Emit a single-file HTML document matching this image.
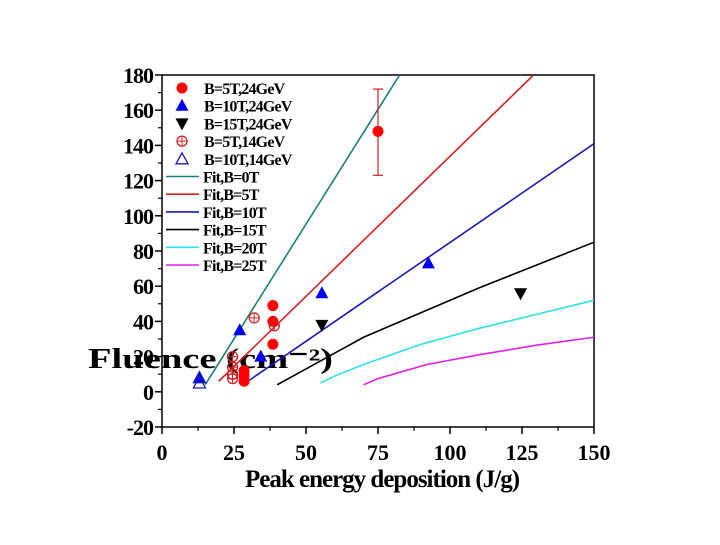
<!DOCTYPE html>
<html><head><meta charset="utf-8"><style>
body{margin:0;background:#fff;width:720px;height:540px;overflow:hidden}
svg text{font-family:"Liberation Serif",serif;font-weight:bold}
</style></head><body>
<svg id="chart" width="720" height="540" xmlns="http://www.w3.org/2000/svg"></svg>
<script>
const xTicks=[0,25,50,75,100,125,150];
const yTicks=[-20,0,20,40,60,80,100,120,140,160,180];
const red5T24=[[28.5,12],[28.5,9],[28.5,6],[38.5,27],[38.5,40],[38.5,49],[75,148]];
const red5T24Err=[[75,123,172]];
const blue10T24=[[13,8],[27,35],[34.3,20],[55.5,56],[92.5,73]];
const black15T24=[[55.5,38],[124.5,56]];
const red5T14=[[24.5,20],[24.5,14],[24.5,10],[24.5,7.5],[32,42],[39,37.5]];
const blue10T14=[[13,8],[13,5]];
const fit0=[[15,4],[82.5,180]];
const fit5=[[19.7,6],[129,180]];
const fit10=[[29.8,6],[150,141]];
const fit15=[[40,4],[50,13],[60,22],[70,31],[90,45],[110,59],[130,72],[150,85]];
const fit20=[[55,5],[60,9],[70,15.5],[90,27],[110,36],[130,44],[150,52]];
const fit25=[[70,4],[75,7.5],[92,15.5],[110,21],[130,26.5],[150,31]];
const L=162,R=594,T=75,B=427;
const X=v=>L+(v-0)/150*(R-L);
const Y=v=>B-(v+20)/200*(B-T);
const svg=document.getElementById('chart');
const NS='http://www.w3.org/2000/svg';
function mk(tag,at,parent){const e=document.createElementNS(NS,tag);for(const k in at)e.setAttribute(k,at[k]);(parent||svg).appendChild(e);return e;}
// frame
let fr=mk('rect',{x:L,y:T,width:R-L,height:B-T,fill:'none',stroke:'#000','stroke-width':1.5});


xTicks.forEach((t,i)=>{
  let l=mk('line',{x1:X(t),x2:X(t),y1:B,y2:B+7,stroke:'#000','stroke-width':1.5});
  
  
  if(i<xTicks.length-1){let m=mk('line',{x1:X(t+12.5),x2:X(t+12.5),y1:B,y2:B+4,stroke:'#000','stroke-width':1.2});
  
  }
  let tx=mk('text',{x:X(t),y:B+33,'text-anchor':'middle','font-size':22});tx.textContent=t;
  
  
});
yTicks.forEach((t,i)=>{
  let l=mk('line',{x1:L-7,x2:L,y1:Y(t),y2:Y(t),stroke:'#000','stroke-width':1.5});
  
  
  if(i<yTicks.length-1){let m=mk('line',{x1:L-4,x2:L,y1:Y(t+10),y2:Y(t+10),stroke:'#000','stroke-width':1.2});
  
  }
  let tx=mk('text',{x:L-9,y:Y(t)+8,'text-anchor':'end','font-size':22,'letter-spacing':-1});tx.textContent=t;
  
  
});
let xt=mk('text',{x:382,y:487,'text-anchor':'middle','font-size':25,'letter-spacing':-1});xt.textContent='Peak energy deposition (J/g)';


let yt=mk('text',{x:88,y:368,'font-size':28,textLength:245,lengthAdjust:'spacingAndGlyphs'});yt.textContent='Fluence (cm\u207B\u00B2)';


// fits
const fits=[[fit0,'#1a8075','fit-b0t'],[fit5,'#d42020','fit-b5t'],[fit10,'#1a1ab0','fit-b10t'],[fit15,'#000','fit-b15t'],[fit20,'#30e0e8','fit-b20t'],[fit25,'#e020e0','fit-b25t']];
const clip=mk('clipPath',{id:'cp'});mk('rect',{x:L,y:T,width:R-L,height:B-T},clip);
fits.forEach(([d,c,n])=>{
  let p=mk('polyline',{points:d.map(q=>X(q[0])+','+Y(q[1])).join(' '),fill:'none',stroke:c,'stroke-width':1.6,'clip-path':'url(#cp)'});
  
  
});
// error bars
red5T24Err.forEach(e=>{
  let g=mk('g',{stroke:'#d42020','stroke-width':1.2});
  
  
  mk('line',{x1:X(e[0]),x2:X(e[0]),y1:Y(e[1]),y2:Y(e[2])},g);
  mk('line',{x1:X(e[0])-5,x2:X(e[0])+5,y1:Y(e[1]),y2:Y(e[1])},g);
  mk('line',{x1:X(e[0])-5,x2:X(e[0])+5,y1:Y(e[2]),y2:Y(e[2])},g);
});
function marker(type,cx,cy,name,parent){
  let e;
  if(type==='fc')e=mk('circle',{cx,cy,r:5.5,fill:'#f00'},parent);
  else if(type==='oc'){e=mk('g',{},parent);mk('circle',{cx,cy,r:5,fill:'none',stroke:'#d42020','stroke-width':1.3},e);mk('path',{d:`M${cx-5} ${cy}H${cx+5}M${cx} ${cy-5}V${cy+5}`,stroke:'#d42020','stroke-width':1},e);}
  else if(type==='ft')e=mk('polygon',{points:`${cx},${cy-7} ${cx-6.5},${cy+5} ${cx+6.5},${cy+5}`,fill:'#0000f0'},parent);
  else if(type==='fd')e=mk('polygon',{points:`${cx},${cy+7} ${cx-6.5},${cy-5} ${cx+6.5},${cy-5}`,fill:'#000'},parent);
  else if(type==='ot'){e=mk('g',{},parent);mk('polygon',{points:`${cx},${cy-6} ${cx-6},${cy+5} ${cx+6},${cy+5}`,fill:'none',stroke:'#1a1ab0','stroke-width':1.3},e);}
  
  
}
[[red5T24,'fc','point-b5t-24gev'],[blue10T24,'ft','point-b10t-24gev'],[black15T24,'fd','point-b15t-24gev'],[red5T14,'oc','point-b5t-14gev'],[blue10T14,'ot','point-b10t-14gev']].forEach(([d,t,n])=>d.forEach(q=>marker(t,X(q[0]),Y(q[1]),n)));
// legend
const leg=mk('g',{});


const items=[['fc','B=5T,24GeV'],['ft','B=10T,24GeV'],['fd','B=15T,24GeV'],['oc','B=5T,14GeV'],['ot','B=10T,14GeV'],['#1a8075','Fit,B=0T'],['#d42020','Fit,B=5T'],['#1a1ab0','Fit,B=10T'],['#000','Fit,B=15T'],['#30e0e8','Fit,B=20T'],['#e020e0','Fit,B=25T']];
items.forEach((it,i)=>{
  const y=88+i*17.7;
  if(it[0].startsWith('#')){let l=mk('line',{x1:166,x2:199,y1:y,y2:y,stroke:it[0],'stroke-width':1.6},leg);
    
    }
  else marker(it[0],182,y,'legend-marker',leg);
  let tx=mk('text',{x:it[0].startsWith('#')?203:204,y:y+6,'font-size':16,'letter-spacing':-0.8},leg);tx.textContent=it[1];
  
  
});
</script>
</body></html>
